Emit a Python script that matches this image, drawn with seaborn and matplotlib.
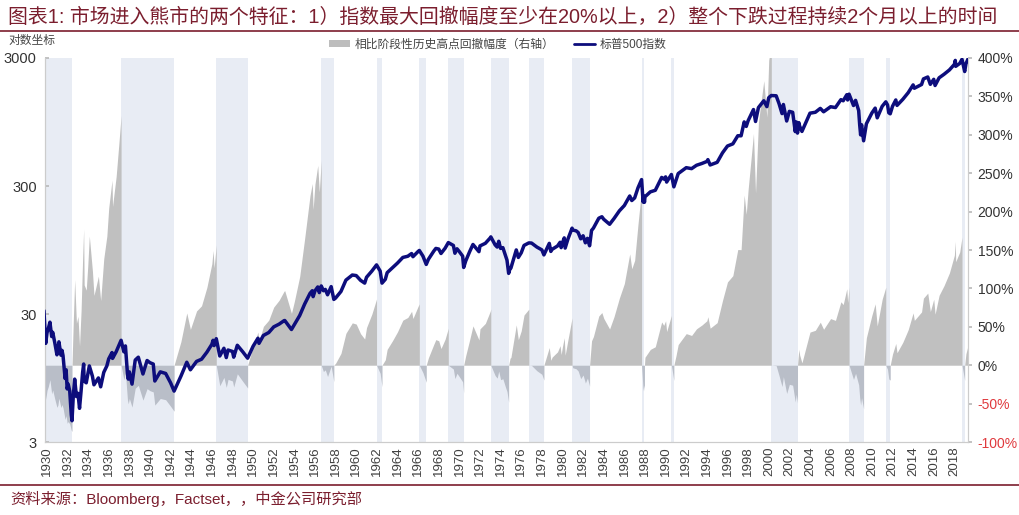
import numpy as np
import pandas as pd
import seaborn as sns
import matplotlib.pyplot as plt
from matplotlib.lines import Line2D
from matplotlib.patches import Patch
from matplotlib.ticker import NullLocator, FixedLocator, FixedFormatter

# S&P 500 level (decimal year, index value)
years = [1929.70, 1929.87, 1930.00, 1930.12, 1930.28, 1930.45, 1930.55, 1930.75, 1930.96,
         1931.05, 1931.15, 1931.35, 1931.45, 1931.55, 1931.75, 1931.85, 1931.95,
         1932.05, 1932.20, 1932.35, 1932.42, 1932.55, 1932.68, 1932.85,
         1933.00, 1933.15, 1933.30, 1933.45, 1933.55, 1933.60, 1933.80, 1933.95,
         1934.10, 1934.40, 1934.55, 1934.75, 1934.98, 1935.20, 1935.50, 1935.80, 1935.98,
         1936.30, 1936.35, 1936.70, 1936.98, 1937.18, 1937.45, 1937.60, 1937.80, 1937.88, 1937.98,
         1938.24, 1938.55, 1938.85, 1939.30, 1939.70, 1939.98, 1940.30, 1940.45, 1940.98,
         1941.50, 1941.98, 1942.32, 1942.98, 1943.55, 1943.90, 1944.50, 1944.98, 1945.50, 1945.98,
         1946.10, 1946.20, 1946.41, 1946.75, 1946.98, 1947.15, 1947.38, 1947.55, 1947.98,
         1948.10, 1948.45, 1948.98, 1949.45, 1949.98, 1950.45, 1950.55, 1950.98, 1951.50, 1951.98,
         1952.50, 1952.98, 1953.05, 1953.70, 1953.98, 1954.50, 1954.98, 1955.50, 1955.72, 1955.80,
         1955.98, 1956.25, 1956.40, 1956.59, 1956.80, 1956.98, 1957.20, 1957.55, 1957.81, 1957.98,
         1958.50, 1958.98, 1959.60, 1959.98, 1960.40, 1960.80, 1960.98, 1961.50, 1961.95,
         1962.30, 1962.48, 1962.80, 1962.98, 1963.50, 1963.98, 1964.50, 1964.98, 1965.35, 1965.48,
         1965.98, 1966.10, 1966.45, 1966.77, 1966.98, 1967.50, 1967.70, 1967.98, 1968.20, 1968.60,
         1968.91, 1969.40, 1969.55, 1969.75, 1969.98, 1970.30, 1970.40, 1970.60, 1970.98,
         1971.30, 1971.88, 1971.98, 1972.50, 1972.98, 1973.03, 1973.45, 1973.65, 1973.80, 1973.98,
         1974.20, 1974.45, 1974.60, 1974.76, 1974.90, 1974.98, 1975.50, 1975.70, 1975.98,
         1976.25, 1976.72, 1976.98, 1977.50, 1977.98, 1978.18, 1978.70, 1978.85, 1978.98,
         1979.50, 1979.75, 1979.85, 1979.98, 1980.15, 1980.24, 1980.50, 1980.91, 1980.98,
         1981.30, 1981.50, 1981.75, 1981.98, 1982.20, 1982.40, 1982.61, 1982.80, 1982.98,
         1983.50, 1983.80, 1983.98, 1984.55, 1984.98, 1985.50, 1985.98, 1986.50, 1986.70, 1986.98,
         1987.30, 1987.65, 1987.80, 1987.87, 1987.93, 1987.98, 1988.50, 1988.98,
         1989.60, 1989.80, 1989.98, 1990.08, 1990.54, 1990.78, 1990.98, 1991.20, 1991.98,
         1992.50, 1992.98, 1993.50, 1993.98, 1994.08, 1994.30, 1994.98, 1995.50, 1995.98,
         1996.50, 1996.98, 1997.30, 1997.60, 1997.80, 1997.98, 1998.50, 1998.70, 1998.98,
         1999.50, 1999.80, 1999.98, 2000.23, 2000.70, 2000.98, 2001.27, 2001.40, 2001.72, 2001.98,
         2002.30, 2002.55, 2002.65, 2002.77, 2002.90, 2002.98, 2003.20, 2003.98, 2004.50, 2004.98,
         2005.30, 2005.98, 2006.45, 2006.98, 2007.20, 2007.55, 2007.63, 2007.77,
         2008.20, 2008.40, 2008.70, 2008.80, 2008.89, 2008.98, 2009.18, 2009.45, 2009.98,
         2010.30, 2010.50, 2010.98, 2011.33, 2011.50, 2011.62, 2011.76, 2011.98,
         2012.30, 2012.42, 2012.98, 2013.50, 2013.98, 2014.10, 2014.80, 2014.98,
         2015.40, 2015.65, 2015.98, 2016.11, 2016.50, 2016.98, 2017.50, 2017.98,
         2018.07, 2018.11, 2018.50, 2018.72, 2018.98, 2019.10, 2019.30]
spx = [31.9, 17.7, 21.5, 23.0, 25.9, 20.0, 21.6, 17.9, 14.4,
       15.3, 18.2, 14.3, 15.6, 14.2, 9.4, 11.0, 7.8,
       8.5, 7.5, 4.9, 4.4, 7.0, 9.3, 6.8,
       7.2, 5.5, 7.5, 10.5, 12.2, 9.0, 8.7, 10.1,
       11.8, 9.8, 8.4, 8.9, 9.5, 8.1, 10.5, 11.8, 13.4,
       15.0, 13.5, 15.2, 17.2, 18.7, 15.2, 16.9, 10.2, 9.3, 10.6,
       8.5, 13.1, 13.8, 10.2, 13.0, 12.5, 12.2, 8.99, 10.6,
       10.3, 8.7, 7.5, 9.8, 12.6, 11.0, 12.8, 13.3, 15.1, 17.4,
       18.7, 17.0, 19.25, 14.1, 15.3, 16.2, 13.7, 15.7, 15.3,
       13.8, 17.1, 15.2, 13.55, 16.8, 19.4, 17.7, 20.4, 21.5, 23.8,
       25.0, 26.6, 26.7, 22.7, 24.8, 29.2, 35.9, 43.5, 45.6, 41.0,
       45.5, 48.8, 44.1, 49.7, 45.6, 46.7, 42.4, 49.1, 39.0, 40.0,
       45.0, 55.2, 60.5, 59.9, 55.0, 52.3, 58.1, 65.0, 72.6,
       65.0, 52.3, 56.0, 63.1, 69.0, 75.0, 83.0, 84.8, 89.0, 84.1,
       92.4, 94.1, 85.0, 73.2, 80.3, 93.0, 97.6, 96.5, 89.1, 98.0,
       108.4, 103.0, 89.5, 97.0, 92.1, 85.0, 69.3, 78.0, 92.2,
       104.8, 92.1, 102.1, 107.0, 118.1, 120.2, 104.0, 100.0, 111.0, 97.6,
       99.0, 86.0, 79.0, 62.3, 68.0, 68.6, 95.0, 83.0, 90.2,
       103.0, 107.8, 107.5, 100.0, 95.1, 86.9, 106.9, 92.5, 96.1,
       102.0, 109.0, 99.0, 107.9, 118.0, 98.2, 115.0, 140.5, 135.8,
       134.0, 130.0, 116.0, 122.6, 108.0, 117.0, 102.4, 135.0, 140.6,
       168.0, 172.6, 164.9, 150.7, 167.2, 192.0, 211.3, 250.8, 231.0, 242.2,
       290.0, 336.8, 224.8, 250.0, 223.9, 247.1, 270.0, 277.7,
       350.0, 340.0, 353.4, 322.0, 369.0, 295.5, 330.2, 375.0, 417.1,
       410.0, 435.7, 450.0, 466.5, 482.0, 438.0, 459.3, 545.0, 615.9,
       640.0, 740.7, 740.0, 950.0, 876.0, 970.4, 1186.8, 957.3, 1229.2,
       1390.0, 1250.0, 1469.3, 1527.5, 1520.0, 1320.3, 1103.0, 1300.0, 965.8, 1148.1,
       1130.0, 797.7, 950.0, 776.8, 938.0, 879.8, 800.7, 1111.9, 1130.0, 1211.9,
       1140.0, 1248.3, 1230.0, 1418.3, 1390.0, 1550.0, 1410.0, 1565.2,
       1276.0, 1400.0, 1166.0, 900.0, 752.4, 903.3, 676.5, 919.0, 1115.1,
       1217.0, 1022.6, 1257.6, 1363.6, 1290.0, 1120.0, 1099.2, 1257.6,
       1410.0, 1278.0, 1426.2, 1606.0, 1848.4, 1741.0, 1862.0, 2058.9,
       2131.0, 1867.0, 2043.9, 1829.1, 2100.0, 2238.8, 2420.0, 2673.6,
       2872.9, 2581.0, 2720.0, 2930.8, 2351.1, 2700.0, 2945.8]

# bear markets: peak date -> trough date (shaded bands)
bear_peaks = [1929.70, 1937.18, 1946.41, 1956.59, 1961.95, 1966.10, 1968.91, 1973.03, 1976.72,
              1980.91, 1987.65, 1990.54, 2000.23, 2007.77, 2011.33, 2018.72]
bear_troughs = [1932.42, 1942.32, 1949.45, 1957.81, 1962.48, 1966.77, 1970.40, 1974.76, 1978.18,
                1982.61, 1987.93, 1990.78, 2002.77, 2009.18, 2011.76, 2018.98]

x_ticks = list(range(1930, 2019, 2))
left_ticks = [3, 30, 300, 3000]
right_ticks = [-1.0, -0.5, 0, 0.5, 1.0, 1.5, 2.0, 2.5, 3.0, 3.5, 4.0]

title = "图表1: 市场进入熊市的两个特征：1）指数最大回撤幅度至少在20%以上，2）整个下跌过程持续2个月以上的时间"
source = "资料来源：Bloomberg，Factset，，中金公司研究部"
lbl_dd = "相比阶段性历史高点回撤幅度（右轴）"
lbl_spx = "标普500指数"

df = pd.DataFrame({"year": years, "spx": spx})

sns.set_theme(style="white")
plt.rcParams["font.family"] = ["Liberation Sans", "Noto Sans CJK SC", "DejaVu Sans"]

red = "#7b1e2e"
navy = "#0d0d7c"
grey_up = "#c0c0c0"
grey_dn = "#b9bec8"
shade = "#e8ecf4"

fig = plt.figure(figsize=(10.2, 5.15), dpi=100)
ax = fig.add_axes([0.0441, 0.1417, 0.9049, 0.7457])
ax2 = ax.twinx()

# shaded bear market bands
for p, t in zip(bear_peaks, bear_troughs):
    ax2.axvspan(p, t, color=shade, lw=0, zorder=0)

# drawdown from peak inside a bear, rise from trough after it
yr = df["year"].values
vals = df["spx"].values
nxt = bear_peaks[1:] + [9999]
for p, t, n in zip(bear_peaks, bear_troughs, nxt):
    vp = vals[yr == p][0]
    vt = vals[yr == t][0]
    m = (yr >= p) & (yr <= t)
    ax2.fill_between(yr[m], vals[m] / vp - 1, 0, color=grey_dn, lw=0, zorder=1)
    m = (yr >= t) & (yr <= n)
    ax2.fill_between(yr[m], vals[m] / vt - 1, 0, color=grey_up, lw=0, zorder=1)

sns.lineplot(data=df, x="year", y="spx", ax=ax, color=navy, linewidth=2.5,
             estimator=None, sort=False, zorder=3)
ax.set_yscale("log")
ax.set_zorder(ax2.get_zorder() + 1)
ax.patch.set_visible(False)

ax.set_xlim(1929.8, 2019.3)
ax.set_ylim(3, 3000)
ax2.set_ylim(-1.0, 4.0)
ax.set_xlabel("")
ax.set_ylabel("")

ax.set_xticks(x_ticks)
ax.set_xticklabels([str(v) for v in x_ticks], rotation=90, fontsize=9.5, color="#404040")
ax.yaxis.set_major_locator(FixedLocator(left_ticks))
ax.yaxis.set_major_formatter(FixedFormatter([str(v) for v in left_ticks]))
ax.yaxis.set_minor_locator(NullLocator())
ax.tick_params(axis="y", labelsize=10.5, labelcolor="#333333", length=3, direction="in",
               color="#bbbbbb", pad=6)
ax.tick_params(axis="x", length=3, direction="in", color="#bbbbbb", pad=3)

ax2.set_yticks(right_ticks)
ax2.set_yticklabels([f"{int(round(v * 100))}%" for v in right_ticks], fontsize=10)
for lab, v in zip(ax2.get_yticklabels(), right_ticks):
    lab.set_color("#e03a3e" if v < 0 else "#333333")
ax2.tick_params(axis="y", length=3, direction="out", color="#bbbbbb", pad=4)

for a in (ax, ax2):
    a.spines["top"].set_visible(False)
    for s in ("left", "right", "bottom"):
        a.spines[s].set_color("#cccccc")
        a.spines[s].set_linewidth(0.8)
ax.grid(False)
ax2.grid(False)

# titles, legend, footer
fig.text(0.008, 0.966, title, fontsize=14.3, color=red, va="center", ha="left")
fig.add_artist(Line2D([0, 1], [0.9398, 0.9398], color=red, lw=1.2))
fig.text(0.008, 0.921, "对数坐标", fontsize=8.5, color="#444444", va="center")
handles = [Patch(facecolor="#bdbdbd", edgecolor="none"), Line2D([], [], color=navy, lw=2)]
fig.legend(handles, [lbl_dd, lbl_spx], loc="center", bbox_to_anchor=(0.488, 0.913), ncol=2,
           frameon=False, fontsize=8.5, handlelength=1.8, handleheight=0.6,
           columnspacing=1.6, handletextpad=0.4, labelcolor="#444444")
fig.add_artist(Line2D([0, 1], [0.0583, 0.0583], color=red, lw=1.2))
fig.text(0.010, 0.032, source, fontsize=11, color=red, va="center", ha="left")

fig.savefig("out.png", dpi=100)
